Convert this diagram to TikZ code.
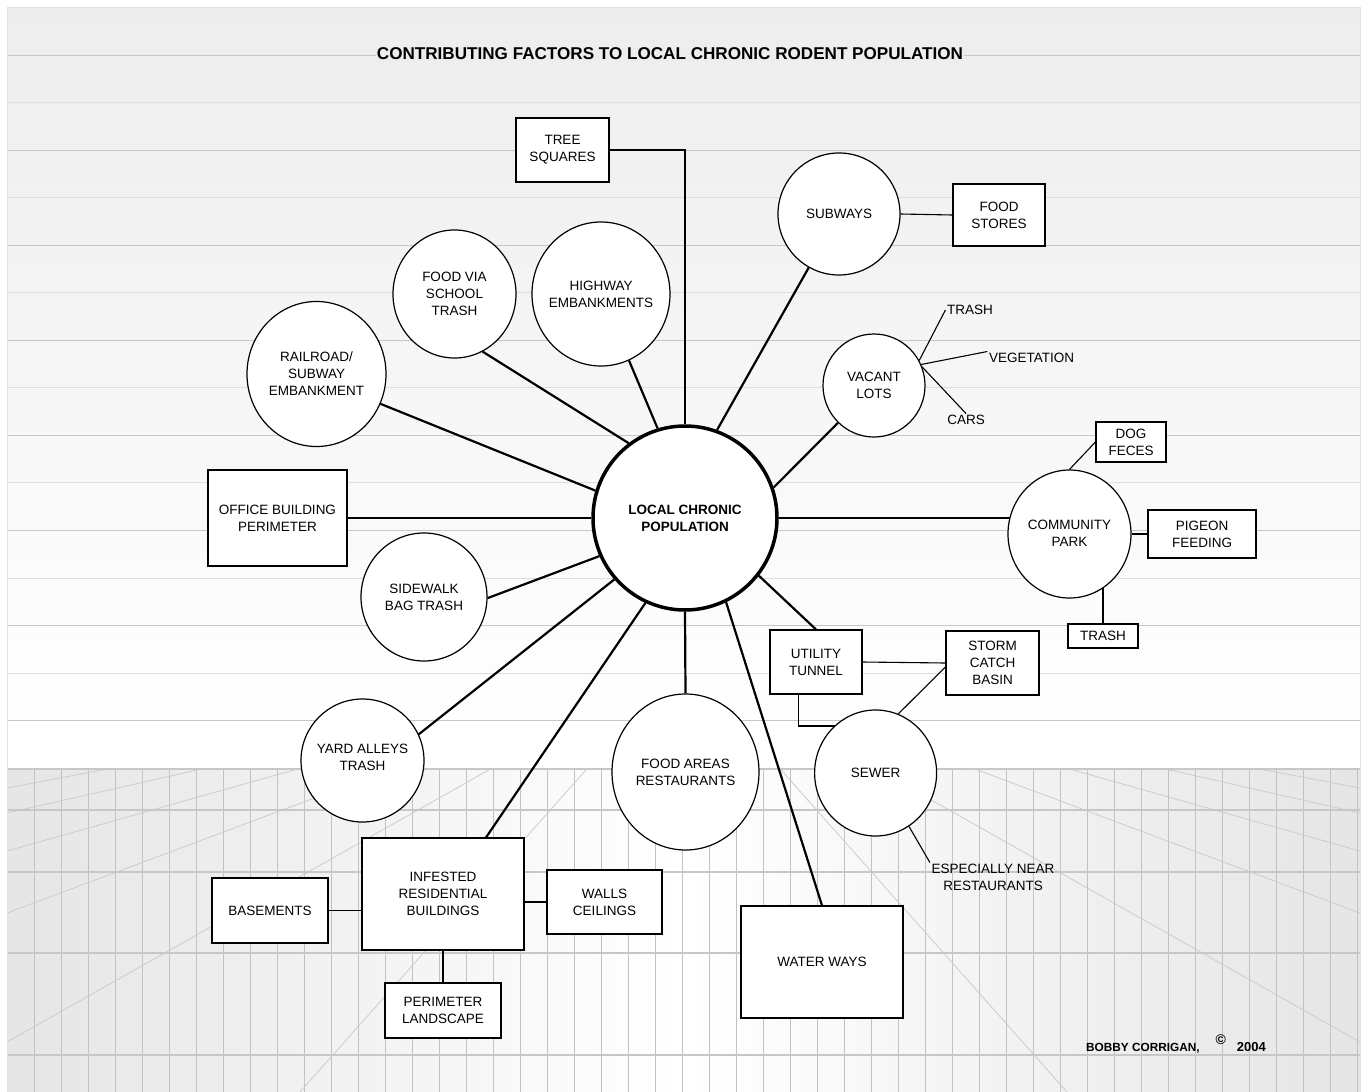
\documentclass[tikz,border=0pt]{standalone}
\usepackage{fontspec}
\setmainfont{Liberation Sans}
\usetikzlibrary{shapes.geometric,calc}
\pgfdeclarelayer{bgl}
\pgfdeclarelayer{edges}
\pgfsetlayers{bgl,edges,main}
\tikzset{
  txt/.style={font=\fontsize{13.5}{17}\selectfont},
  every node/.style={txt, text=black},
  every label/.style={align=center, inner sep=0pt, txt},
  bub/.style n args={2}{ellipse, draw=black, line width=1.2pt, fill=white, minimum width=#1, minimum height=#2, inner sep=0pt},
  box/.style n args={2}{rectangle, draw=black, line width=1.1pt, fill=white, minimum width=#1, minimum height=#2, inner sep=0pt, align=center},
  spoke/.style={line width=2.2pt, draw=black},
  link/.style={line width=1.1pt, draw=black},
  tag/.style={inner sep=1.5pt, align=center},
  hline/.style={line width=1pt},
  floorline/.style={line width=0.8pt, draw=black!24},
}
\begin{document}
\begin{tikzpicture}[x=1pt, y=-1pt]
\useasboundingbox (0,0) rectangle (1366,1092);
% ---------------- background ----------------
\begin{pgfonlayer}{bgl}
\fill[white] (0,0) rectangle (1366,1092);
\shade[top color=black!7, bottom color=white] (7,7) rectangle (1360,740);
\fill[white] (7,740) rectangle (1360,768);
\shade[left color=black!10, right color=black!10, middle color=white] (7,768) rectangle (1360,1092);
\foreach \k in {0,2,...,14} {\pgfmathsetmacro\yy{55+47.55*\k}\draw[hline, black!22] (7,\yy) -- (1360,\yy);}
\foreach \k in {1,3,...,13} {\pgfmathsetmacro\yy{55+47.55*\k}\draw[hline, black!13] (7,\yy) -- (1360,\yy);}
\begin{scope}
\clip (7,768) rectangle (1360,1092);
\foreach \xx in {34,61,...,1357} \draw[floorline] (\xx,768) -- (\xx,1092);
\foreach \px/\py in {7/788, 7/813, 7/851, 7/913, 7/1042, 300/1092, 1360/788, 1360/813, 1360/851, 1360/913, 1360/1042, 1067/1092}
  \draw[line width=0.8pt, black!20] (683.5,660) -- (\px,\py);
\foreach \yy in {769,810,872,953,1055} \draw[line width=1.4pt, black!22] (7,\yy) -- (1360,\yy);
\end{scope}
\draw[black!12, line width=1pt] (7,7) rectangle (1360,1092);
\end{pgfonlayer}

% ---------------- title ----------------
\node[fill=black!7, inner sep=1pt, font=\bfseries\fontsize{17.1}{20}\selectfont] (title) at (670,54) {CONTRIBUTING FACTORS TO LOCAL CHRONIC RODENT POPULATION};

% ---------------- centre ----------------
\node[bub={184pt}{184pt}, line width=3.5pt, label={[font=\bfseries\fontsize{13.5}{17}\selectfont]center:LOCAL CHRONIC\\POPULATION}] (c) at (685,518) {};

% ---------------- circles ----------------
\node[bub={122pt}{122pt}, label=center:SUBWAYS] (subways) at (839,214) {};
\node[bub={138pt}{144pt}, label=center:HIGHWAY\\EMBANKMENTS] (hwy) at (601,294) {};
\node[bub={123pt}{128pt}, label=center:FOOD VIA\\SCHOOL\\TRASH] (school) at (454.5,294) {};
\node[bub={139pt}{145pt}, label=center:RAILROAD/\\SUBWAY\\EMBANKMENT] (rail) at (316.5,374) {};
\node[bub={126pt}{128pt}, label=center:SIDEWALK\\BAG TRASH] (sidewalk) at (424,597) {};
\node[bub={123pt}{123pt}, label={[yshift=3pt]center:YARD ALLEYS\\TRASH}] (yard) at (362.5,760.5) {};
\node[bub={147pt}{156pt}, label=center:FOOD AREAS\\RESTAURANTS] (foodareas) at (685.5,772) {};
\node[bub={122pt}{126pt}, label=center:SEWER] (sewer) at (875.6,773) {};
\node[bub={102pt}{103pt}, label=center:VACANT\\LOTS] (vacant) at (874,385.5) {};
\node[bub={123pt}{128pt}, label={[yshift=1pt]center:COMMUNITY\\PARK}] (park) at (1069.5,534) {};

% ---------------- boxes ----------------
\node[box={93pt}{64pt}] (tree) at (562.5,150) {TREE\\SQUARES};
\node[box={92pt}{62pt}] (stores) at (999,215) {FOOD\\STORES};
\node[box={139pt}{96pt}] (office) at (277.5,518) {OFFICE BUILDING\\PERIMETER};
\node[box={162pt}{112pt}] (infested) at (443,894) {INFESTED\\RESIDENTIAL\\BUILDINGS};
\node[box={116pt}{65pt}] (basements) at (270,910.5) {BASEMENTS};
\node[box={115pt}{64pt}] (walls) at (604.5,902) {WALLS\\CEILINGS};
\node[box={116pt}{55pt}] (perimeter) at (443,1010.5) {PERIMETER\\LANDSCAPE};
\node[box={162pt}{112pt}] (water) at (822,962) {WATER WAYS};
\node[box={92pt}{64pt}] (utility) at (816,662) {UTILITY\\TUNNEL};
\node[box={93pt}{64pt}] (storm) at (992.5,663) {STORM\\CATCH\\BASIN};
\node[box={70pt}{40pt}] (dog) at (1131,442) {DOG\\FECES};
\node[box={108pt}{48pt}] (pigeon) at (1202,534) {PIGEON\\FEEDING};
\node[box={70pt}{24pt}] (trashbox) at (1103,636) {TRASH};

% ---------------- free labels ----------------
\node[tag] (vtrash) at (970,310) {TRASH};
\node[tag] (veg) at (1031.5,358) {VEGETATION};
\node[tag] (cars) at (966,420) {CARS};
\node[tag] (esp) at (993,877.5) {ESPECIALLY NEAR\\RESTAURANTS};
\node[anchor=base west, inner sep=0pt, font=\bfseries\fontsize{11.8}{14}\selectfont] (author) at (1086,1051)
  {BOBBY CORRIGAN,\hspace{16pt}\raisebox{7pt}{\fontsize{14}{14}\selectfont ©}\hspace{11pt}{\fontsize{13}{14}\selectfont 2004}};

% ---------------- connectors ----------------
\begin{pgfonlayer}{edges}
\draw[spoke] (tree.east) -| (c.north);
\draw[spoke] (c.70) -- (subways);
\draw[spoke] (c.107) -- (hwy);
\draw[spoke] (c.127) -- (school.-64);
\draw[spoke] (c.163) -- (rail.-25);
\draw[spoke] (c.west) -- (office.east);
\draw[spoke] (c.204) -- (sidewalk.-1);
\draw[spoke] (c.221) -- (yard.25);
\draw[spoke] (c.245) -- ([xshift=43pt]infested.north);
\draw[spoke] (c.south) -- (foodareas.north);
\draw[spoke] (c.-64.6) -- (water.north);
\draw[spoke] (c.-38) -- (utility.north);
\draw[spoke] (c.east) -- (c.east -| park.center);
\draw[spoke] (c.19) -- (vacant.226);
% secondary
\draw[link] (subways.east) -- (stores.west);
\draw[link] (basements.east) -- (basements.east -| infested.west);
\draw[link] (walls.west) -- (walls.west -| infested.east);
\draw[link] (infested.south) -- (perimeter.north);
\draw[link] (utility.east) -- (storm.west);
\draw[link] ([xshift=29pt]utility.south west) |- ([yshift=47pt]sewer.center);
\draw[link] (sewer.69) -- ([xshift=4pt]storm.west);
\draw[link] (sewer.-58) -- (esp.north west);
\draw[link] (vacant.29) -- (vtrash.west);
\draw[link] (vacant.24) -- (veg.north west);
\draw[link] (vacant.21) -- (cars.north);
\draw[link] (park.north) -- (dog.west);
\draw[link] (park.east) -- (pigeon.west);
\draw[link] (trashbox.north) -- (trashbox.north |- park.center);
\end{pgfonlayer}
\end{tikzpicture}
\end{document}
